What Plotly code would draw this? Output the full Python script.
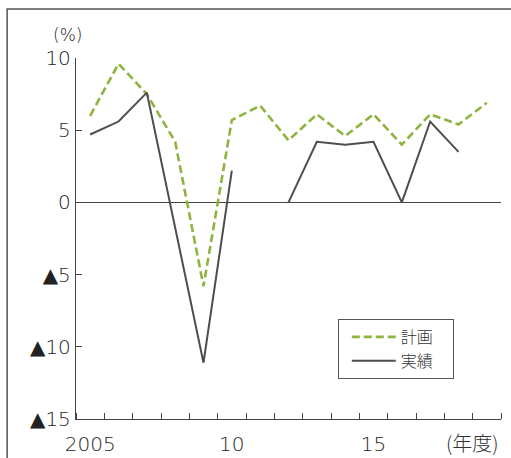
import plotly.graph_objects as go

# Fiscal years (2005-2019)
years = list(range(2005, 2020))

# Planned growth rate (%)
plan = [6.0, 9.6, 7.5, 4.2, -5.8, 5.7, 6.7, 4.3, 6.1, 4.6, 6.1, 4.0, 6.1, 5.4, 6.9]

# Actual growth rate (%), no figure for 2011 and 2019
actual = [4.7, 5.6, 7.6, -1.8, -11.1, 2.2, None, 0.0, 4.2, 4.0, 4.2, 0.0, 5.6, 3.5, None]

# negative values are written with a black triangle
TRI = "<span style='font-family:DejaVu Sans;font-weight:400'>▲</span>"
y_tickvals = [10, 5, 0, -5, -10, -15]
y_ticktext = ["10", "5", "0", TRI + "5", TRI + "10", TRI + "15"]
x_tickvals = [2005, 2010, 2015]
x_ticktext = ["2005", "10", "15"]
x_boundaries = [y + 0.5 for y in range(2004, 2020)]

GREEN = "#8db43e"
DARK = "#4d4d4d"
AXIS = "#444444"
TEXT = "#222222"
NUM_FONT = "DejaVu Sans"
JP_FONT = "Noto Sans CJK JP"
NBSP = "\u00a0"

fig = go.Figure()
fig.add_trace(go.Scatter(
    x=years, y=plan, name="計画" + NBSP * 4, mode="lines",
    line=dict(color=GREEN, width=2.6, dash="8px,4px"),
))
fig.add_trace(go.Scatter(
    x=years, y=actual, name="実績" + NBSP * 4, mode="lines",
    line=dict(color=DARK, width=2), connectgaps=False,
))

num_font = dict(family=NUM_FONT, size=20, color=TEXT, weight=200)

fig.update_layout(
    width=511, height=458,
    margin=dict(l=76, r=10, t=58, b=39, autoexpand=False),
    paper_bgcolor="white", plot_bgcolor="white",
    showlegend=True,
    legend=dict(
        x=0.616, y=0.277, xanchor="left", yanchor="top",
        bordercolor="#555555", borderwidth=1, bgcolor="white",
        font=dict(family=JP_FONT, size=16, color="#333333", weight=300),
        itemwidth=44, tracegroupgap=2, indentation=8,
    ),
    xaxis=dict(
        range=[2004.5, 2019.5], automargin=False,
        tickvals=x_tickvals, ticktext=x_ticktext,
        ticks="", showgrid=False, zeroline=False,
        showline=True, linecolor=AXIS, linewidth=1.3,
        tickfont=num_font, ticklabelstandoff=7,
        minor=dict(tickvals=x_boundaries, ticks="inside", ticklen=6,
                   tickcolor=AXIS, tickwidth=1, showgrid=False),
    ),
    yaxis=dict(
        range=[-15, 10], automargin=False,
        tickvals=y_tickvals, ticktext=y_ticktext,
        ticks="inside", ticklen=6, tickcolor=AXIS, tickwidth=1,
        showgrid=False,
        zeroline=True, zerolinecolor=AXIS, zerolinewidth=1.3,
        showline=True, linecolor=AXIS, linewidth=1.3,
        tickfont=num_font,
    ),
    shapes=[
        dict(type="rect", xref="paper", yref="paper",
             x0=-0.162, x1=1.2, y0=-0.2, y1=1.136,
             line=dict(color="#555555", width=1.5), layer="below"),
    ],
    annotations=[
        dict(text="(%)", xref="paper", yref="paper", x=-0.019, y=1.064,
             xanchor="center", yanchor="middle", showarrow=False,
             font=dict(family=NUM_FONT, size=17, color=TEXT, weight=200)),
        dict(text="(年度)", xref="paper", yref="paper", x=0.932, y=-0.064,
             xanchor="center", yanchor="middle", showarrow=False,
             font=dict(family=JP_FONT, size=20, color="#333333", weight=300)),
    ],
)

fig.write_html("out.html")
